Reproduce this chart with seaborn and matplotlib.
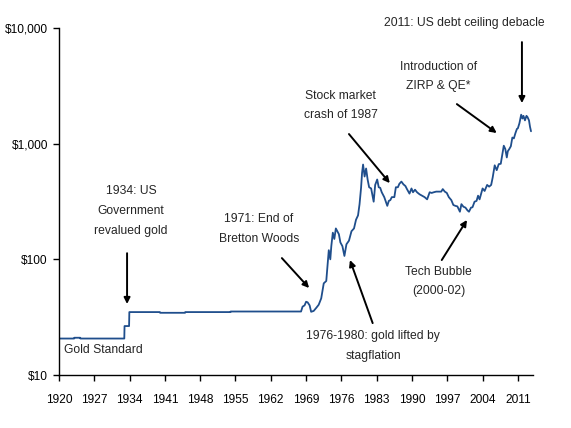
import numpy as np
import pandas as pd
import matplotlib
matplotlib.use('Agg')
import matplotlib.pyplot as plt
from matplotlib.ticker import FixedLocator, NullLocator
import seaborn as sns

# gold price, US$ per ounce
years = [1920.0, 1923.0, 1923.05, 1924.2, 1924.25, 1932.95, 1933.0, 1933.9, 1933.95,
         1940.0, 1940.05, 1945.0, 1945.05, 1954.0, 1954.05, 1968.0,
         1968.3, 1968.7, 1969.0, 1969.3, 1969.7, 1970.0, 1970.5, 1971.0, 1971.5,
         1972.0, 1972.5, 1973.0, 1973.5, 1973.8, 1974.0, 1974.3, 1974.6, 1974.9,
         1975.2, 1975.5, 1975.8, 1976.2, 1976.6, 1977.0, 1977.5, 1978.0, 1978.5,
         1978.9, 1979.3, 1979.6, 1979.9, 1980.1, 1980.3, 1980.6, 1980.9, 1981.2,
         1981.5, 1981.9, 1982.4, 1982.7, 1983.1, 1983.4, 1983.7, 1984.0, 1984.5,
         1985.1, 1985.4, 1985.7, 1986.0, 1986.5, 1986.8, 1987.2, 1987.5, 1987.9,
         1988.3, 1988.7, 1989.0, 1989.5, 1989.9, 1990.2, 1990.6, 1991.0, 1991.5,
         1992.0, 1992.5, 1993.0, 1993.5, 1993.9, 1994.3, 1994.8, 1995.3, 1995.8,
         1996.1, 1996.5, 1996.9, 1997.3, 1997.8, 1998.2, 1998.6, 1999.0, 1999.5,
         1999.8, 2000.2, 2000.6, 2001.0, 2001.3, 2001.7, 2002.0, 2002.4, 2002.8,
         2003.1, 2003.4, 2003.8, 2004.0, 2004.4, 2004.9, 2005.3, 2005.7, 2006.0,
         2006.4, 2006.8, 2007.2, 2007.6, 2007.9, 2008.2, 2008.5, 2008.8, 2009.0,
         2009.3, 2009.6, 2009.9, 2010.2, 2010.5, 2010.8, 2011.0, 2011.3, 2011.65,
         2011.9, 2012.1, 2012.4, 2012.7, 2012.9, 2013.2, 2013.4, 2013.6]
prices = [20.67, 20.67, 21.0, 21.0, 20.67, 20.67, 26.5, 26.5, 35.0,
          35.0, 34.5, 34.5, 35.0, 35.0, 35.4, 35.4,
          39.0, 40.0, 43.0, 42.5, 40.0, 35.2, 35.8, 38.0, 40.5,
          46.0, 62.0, 65.0, 120.0, 100.0, 130.0, 170.0, 150.0, 185.0,
          175.0, 165.0, 140.0, 130.0, 107.0, 135.0, 145.0, 175.0, 185.0,
          220.0, 240.0, 300.0, 415.0, 560.0, 660.0, 520.0, 610.0, 490.0,
          420.0, 410.0, 315.0, 440.0, 490.0, 420.0, 415.0, 380.0, 345.0,
          290.0, 320.0, 325.0, 345.0, 345.0, 420.0, 420.0, 450.0, 470.0,
          445.0, 430.0, 405.0, 370.0, 410.0, 380.0, 400.0, 380.0, 365.0,
          355.0, 345.0, 330.0, 380.0, 375.0, 380.0, 385.0, 385.0, 385.0,
          405.0, 385.0, 375.0, 345.0, 325.0, 295.0, 290.0, 287.0, 258.0,
          300.0, 285.0, 280.0, 265.0, 258.0, 280.0, 282.0, 315.0, 320.0,
          355.0, 330.0, 380.0, 410.0, 390.0, 440.0, 425.0, 440.0, 510.0,
          650.0, 590.0, 665.0, 670.0, 800.0, 960.0, 900.0, 760.0, 860.0,
          900.0, 950.0, 1130.0, 1110.0, 1230.0, 1340.0, 1360.0, 1500.0, 1780.0,
          1650.0, 1740.0, 1590.0, 1740.0, 1700.0, 1590.0, 1400.0, 1280.0]

year_ticks = list(range(1920, 2012, 7))
price_ticks = [10, 100, 1000, 10000]
price_labels = ['$10', '$100', '$1,000', '$10,000']

df = pd.DataFrame({'Year': years, 'Price': prices})

sns.set_style('ticks')
plt.rcParams['font.family'] = ['Liberation Sans', 'DejaVu Sans']

fig = plt.figure(figsize=(5.71, 4.28), dpi=100)
ax = fig.add_axes([0.1033, 0.1238, 0.8302, 0.8108])

sns.lineplot(data=df, x='Year', y='Price', ax=ax, color='#1F4E8C',
             linewidth=1.3, sort=False, estimator=None)

ax.set_yscale('log')
ax.set_ylim(10, 10000)
ax.set_xlim(1920, 2014)
ax.yaxis.set_major_locator(FixedLocator(price_ticks))
ax.yaxis.set_minor_locator(NullLocator())
ax.set_yticklabels(price_labels)
ax.set_xticks(year_ticks)
ax.set_xlabel('')
ax.set_ylabel('')
ax.tick_params(axis='x', length=4, width=1, pad=10, labelsize=8.6, colors='black')
ax.tick_params(axis='y', length=4, width=1, pad=4, labelsize=8.6, colors='black')
for s in ['left', 'bottom']:
    ax.spines[s].set_color('black')
    ax.spines[s].set_linewidth(1)
sns.despine(ax=ax)

fs = 8.7
arrow = dict(arrowstyle='-|>', color='black', lw=1.4, mutation_scale=9,
             shrinkA=0, shrinkB=0)

# text labels
ax.text(1934.3, 261, '1934: US\nGovernment\nrevalued gold', ha='center', va='center',
        fontsize=fs, linespacing=1.85)
ax.text(1928.9, 16.4, 'Gold Standard', ha='center', va='center', fontsize=fs)
ax.text(1959.6, 183, '1971: End of\nBretton Woods', ha='center', va='center',
        fontsize=fs, linespacing=1.85)
ax.text(1982.3, 17.8, '1976-1980: gold lifted by\nstagflation', ha='center', va='center',
        fontsize=fs, linespacing=1.85)
ax.text(1975.9, 2133, 'Stock market\ncrash of 1987', ha='center', va='center',
        fontsize=fs, linespacing=1.85)
ax.text(1995.3, 64.3, 'Tech Bubble\n(2000-02)', ha='center', va='center',
        fontsize=fs, linespacing=1.85)
ax.text(1995.3, 3800, 'Introduction of\nZIRP & QE*', ha='center', va='center',
        fontsize=fs, linespacing=1.85)
ax.text(2000.3, 11000, '2011: US debt ceiling debacle', ha='center', va='center',
        fontsize=fs)

# arrows
ax.annotate('', xy=(1933.5, 41.1), xytext=(1933.5, 113), arrowprops=arrow)
ax.annotate('', xy=(1969.6, 56.5), xytext=(1964.2, 102.5), arrowprops=arrow)
ax.annotate('', xy=(1977.7, 98.6), xytext=(1982.2, 28.1), arrowprops=arrow)
ax.annotate('', xy=(1985.6, 456), xytext=(1977.5, 1211), arrowprops=arrow)
ax.annotate('', xy=(2000.9, 219), xytext=(1995.9, 98.6), arrowprops=arrow)
ax.annotate('', xy=(2006.8, 1236), xytext=(1998.9, 2198), arrowprops=arrow)
ax.annotate('', xy=(2011.8, 2243), xytext=(2011.8, 7550), arrowprops=arrow)

fig.savefig('out.png', dpi=100)
